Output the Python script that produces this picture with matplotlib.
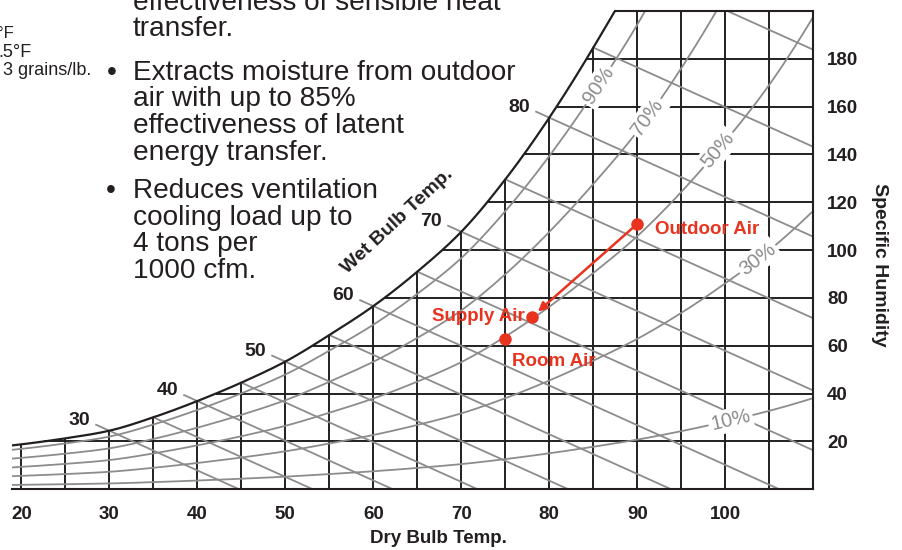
import numpy as np
import matplotlib
matplotlib.use("Agg")
import matplotlib.pyplot as plt

plt.rcParams['font.family'] = ['Liberation Sans', 'DejaVu Sans']

# ---------------- data ----------------
# saturation specific humidity (grains/lb) at each dry-bulb temperature (°F)
sat_temp = [15, 20, 25, 30, 35, 40, 45, 50, 55, 60, 65, 70, 75, 80, 85, 90, 95, 100, 105, 110]
sat_grains = [16.8, 18.8, 21.3, 24.5, 30.1, 36.9, 44.6, 53.4, 64.5, 76.6, 91.0, 107.7,
              129.6, 155.4, 184.7, 217.0, 256.0, 301.0, 352.0, 414.0]
rh_levels = [10, 30, 50, 70, 90]
rh_label_temp = [100.6, 103.7, 99.2, 91.2, 85.6]
wb_temps = [30, 35, 40, 45, 50, 55, 60, 65, 70, 75, 80, 85, 90]
wb_labels = [30, 40, 50, 60, 70, 80]
wb_slope = 1.66            # grains/lb drop per °F along a wet-bulb line
dry_bulb_ticks = [20, 30, 40, 50, 60, 70, 80, 90, 100]
humidity_ticks = [20, 40, 60, 80, 100, 120, 140, 160, 180]
grid_db = list(range(20, 110, 5))
grid_sh = list(range(20, 200, 20))
point_names = ["Outdoor Air", "Supply Air", "Room Air"]
point_db = [90, 78, 75]
point_sh = [111, 72, 63]
top_left_notes = ["°F", ".5°F", "3 grains/lb."]
para1 = ["effectiveness of sensible heat", "transfer."]
para2 = ["Extracts moisture from outdoor", "air with up to 85%",
         "effectiveness of latent", "energy transfer."]
para3 = ["Reduces ventilation", "cooling load up to", "4 tons per", "1000 cfm."]

# ---------------- helpers ----------------
W, H = 902, 550
BLACK = '#231f20'
GRAY = '#8c8c8c'
RED = '#e8341f'

st = np.array(sat_temp, float)
sl = np.log(np.array(sat_grains, float))
hstep = st[1] - st[0]
slope = np.gradient(sl, st)


def ws(t):
    t = np.atleast_1d(np.asarray(t, float))
    i = np.clip(((t - st[0]) // hstep).astype(int), 0, len(st) - 2)
    u = (t - st[i]) / hstep
    h00 = 2 * u**3 - 3 * u**2 + 1
    h10 = u**3 - 2 * u**2 + u
    h01 = -2 * u**3 + 3 * u**2
    h11 = u**3 - u**2
    y = h00 * sl[i] + h10 * hstep * slope[i] + h01 * sl[i + 1] + h11 * hstep * slope[i + 1]
    return np.exp(y)


def rh_curve(t, phi):
    s = ws(t)
    r = s / (s + 4354.0)
    return 4354.0 * phi * r / (1 - phi * r)


XMIN, XMAX = 18.94, 110
YMIN, YMAX = 0, 200

fig = plt.figure(figsize=(W / 100, H / 100), dpi=100)
ax = fig.add_axes([12 / W, 1 - 489.3 / H, (813.3 - 12) / W, (489.3 - 11) / H])
ax.set_xlim(XMIN, XMAX)
ax.set_ylim(YMIN, YMAX)
for sp in ax.spines.values():
    sp.set_visible(False)

T = np.linspace(XMIN, XMAX, 800)
S = ws(T)
Tcap = np.linspace(XMIN, 95, 2000)


def tsat(g):
    return np.interp(g, ws(Tcap), Tcap)


LW = 1.4
# grid: vertical dry-bulb lines
for t in grid_db:
    ax.plot([t, t], [0, min(ws(t)[0], YMAX)], color=BLACK, lw=LW, zorder=2,
            solid_capstyle='butt')
# horizontal humidity lines
for g in grid_sh:
    ax.plot([tsat(g), XMAX], [g, g], color=BLACK, lw=LW, zorder=2, solid_capstyle='butt')
# frame
ax.plot([tsat(YMAX), XMAX], [YMAX, YMAX], color=BLACK, lw=1.5, clip_on=False, zorder=3)
ax.plot([XMAX, XMAX], [YMIN, YMAX], color=BLACK, lw=1.5, clip_on=False, zorder=3)
ax.plot([XMIN, XMAX], [YMIN, YMIN], color=BLACK, lw=1.5, clip_on=False, zorder=3)
# saturation curve
m = S <= YMAX + 1
ax.plot(T[m], S[m], color=BLACK, lw=1.6, zorder=3)

# relative humidity curves
for phi in rh_levels:
    ax.plot(T, rh_curve(T, phi / 100.0), color=GRAY, lw=1.3, zorder=2.5)

# wet-bulb lines
for twb in wb_temps:
    w0 = ws(twb)[0]
    t_end = min(twb + w0 / wb_slope, XMAX)
    t_start = twb - 1.5 if twb in wb_labels else twb
    ax.plot([t_start, t_end], [w0 + wb_slope * (twb - t_start), w0 - wb_slope * (t_end - twb)],
            color=GRAY, lw=1.3, zorder=2.5)
    if twb in wb_labels:
        ax.annotate(str(twb), xy=(t_start, w0 + wb_slope * (twb - t_start)),
                    xytext=(-6, 0), textcoords='offset pixels', ha='right', va='baseline',
                    fontsize=14, fontweight='bold', color=BLACK)

# RH labels
for phi, tl in zip(rh_levels, rh_label_temp):
    w = rh_curve(tl, phi / 100.0)[0]
    p1 = ax.transData.transform((tl - 0.4, rh_curve(tl - 0.4, phi / 100.0)[0]))
    p2 = ax.transData.transform((tl + 0.4, rh_curve(tl + 0.4, phi / 100.0)[0]))
    ang = np.degrees(np.arctan2(p2[1] - p1[1], p2[0] - p1[0]))
    ax.text(tl, w, f"{phi}%", rotation=ang, rotation_mode='anchor', ha='center',
            va='center', fontsize=14.5, color=GRAY, zorder=5,
            bbox=dict(boxstyle='square,pad=0.12', fc='white', ec='none'))

# process points
ax.annotate('', xy=(point_db[1], point_sh[1]), xytext=(point_db[0], point_sh[0]),
            arrowprops=dict(arrowstyle='-|>', color=RED, lw=1.8, shrinkA=0, shrinkB=6,
                            mutation_scale=13), zorder=6)
ax.plot(point_db, point_sh, 'o', color=RED, ms=8, zorder=7)
offsets = [(17.7, -9.7, 'left'), (-7.3, -3.4, 'right'), (6.3, -27, 'left')]
for name, x, y, (dx, dy, ha) in zip(point_names, point_db, point_sh, offsets):
    ax.annotate(name, xy=(x, y), xytext=(dx, dy), textcoords='offset pixels', ha=ha,
                va='baseline', fontsize=13.5, fontweight='bold', color=RED, zorder=8)

# ticks
ax.set_xticks(dry_bulb_ticks)
ax.set_xticklabels([str(v) for v in dry_bulb_ticks])
ax.set_yticks(humidity_ticks)
ax.set_yticklabels([str(v) for v in humidity_ticks])
ax.yaxis.tick_right()
ax.tick_params(axis='x', length=0, pad=12, labelsize=13.5, labelcolor=BLACK)
ax.tick_params(axis='y', length=0, pad=10, labelsize=13.5, labelcolor=BLACK)
for lab in ax.get_xticklabels() + ax.get_yticklabels():
    lab.set_fontweight('bold')

ax.set_xlabel("Dry Bulb Temp.", fontsize=13.5, fontweight='bold', color=BLACK)
ax.xaxis.set_label_coords((438 - 12) / 801.3, (489.3 - 530) / 478.3)
ax.yaxis.set_label_position('right')
ax.set_ylabel("Specific Humidity", fontsize=14, fontweight='bold', color=BLACK,
              rotation=-90, va='center', ha='center')
ax.yaxis.set_label_coords((880 - 12) / 801.3, (489.3 - 265) / 478.3)

ax.text(62.75, 112, "Wet Bulb Temp.", rotation=43, rotation_mode='anchor',
        ha='center', va='center', fontsize=14, fontweight='bold', color=BLACK,
        transform=ax.transData)


# left text block
def ftext(x, y, s, **kw):
    fig.text(x / W, 1 - y / H, s, **kw)


for s, yb, xr, fs in zip(top_left_notes, [38, 57, 75], [14, 32, 91], [12, 13, 13]):
    ftext(xr, yb, s, ha='right', va='baseline', fontsize=fs, color=BLACK)

body = dict(ha='left', va='baseline', fontsize=20.2, color=BLACK)
for s, yb in zip(para1, [9.5, 36.5]):
    ftext(133, yb, s, **body)
for s, yb in zip(para2, [80, 106.5, 133, 159.5]):
    ftext(133, yb, s, **body)
for s, yb in zip(para3, [198.3, 224.8, 251.3, 277.8]):
    ftext(133, yb, s, **body)
ftext(112, 80, "•", ha='center', va='baseline', fontsize=20.2, color=BLACK)
ftext(111, 198.3, "•", ha='center', va='baseline', fontsize=20.2, color=BLACK)

fig.savefig("out.png", dpi=100)
